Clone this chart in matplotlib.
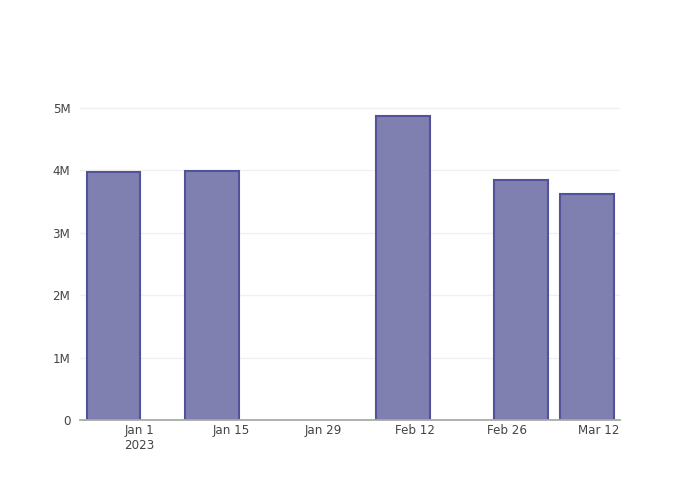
import datetime as dt
import matplotlib
matplotlib.use("Agg")
import matplotlib.pyplot as plt

dates = ["2022-12-28", "2023-01-12", "2023-02-10", "2023-02-28", "2023-03-10"]
values = [3.97e6, 3.985e6, 4.88e6, 3.85e6, 3.63e6]

tick_dates = ["2023-01-01", "2023-01-15", "2023-01-29", "2023-02-12", "2023-02-26", "2023-03-12"]
tick_labels = ["Jan 1\n2023", "Jan 15", "Jan 29", "Feb 12", "Feb 26", "Mar 12"]
y_ticks = [0, 1e6, 2e6, 3e6, 4e6, 5e6]
y_labels = ["0", "1M", "2M", "3M", "4M", "5M"]

x = [dt.datetime.fromisoformat(d) + dt.timedelta(hours=3) for d in dates]
xt = [dt.datetime.fromisoformat(d) for d in tick_dates]

fig = plt.figure(figsize=(7, 5), dpi=100)
ax = fig.add_axes([80 / 700, 80 / 500, 540 / 700, 320 / 500])

ax.bar(x, values, width=8.2, color="#7f7fb0", edgecolor="#52529a", linewidth=1.5, zorder=3)

base = dt.datetime(2023, 1, 1)
ax.set_xlim(base - dt.timedelta(days=8.98), base + dt.timedelta(days=73.2))
ax.set_ylim(0, 5.13e6)

ax.set_xticks(xt)
ax.set_xticklabels(tick_labels, fontsize=8.6, color="#444444")
ax.set_yticks(y_ticks)
ax.set_yticklabels(y_labels, fontsize=8.6, color="#444444")
ax.tick_params(axis="both", length=0)
ax.tick_params(axis="x", pad=3)
ax.tick_params(axis="y", pad=7)

ax.grid(axis="y", color="#f0f0f0", linewidth=1, zorder=0)
for s in ["top", "right", "left"]:
    ax.spines[s].set_visible(False)
ax.spines["bottom"].set_color("#aaaaaa")
ax.spines["bottom"].set_linewidth(1.3)
ax.spines["bottom"].set_zorder(4)

fig.savefig("out.png", dpi=100)
